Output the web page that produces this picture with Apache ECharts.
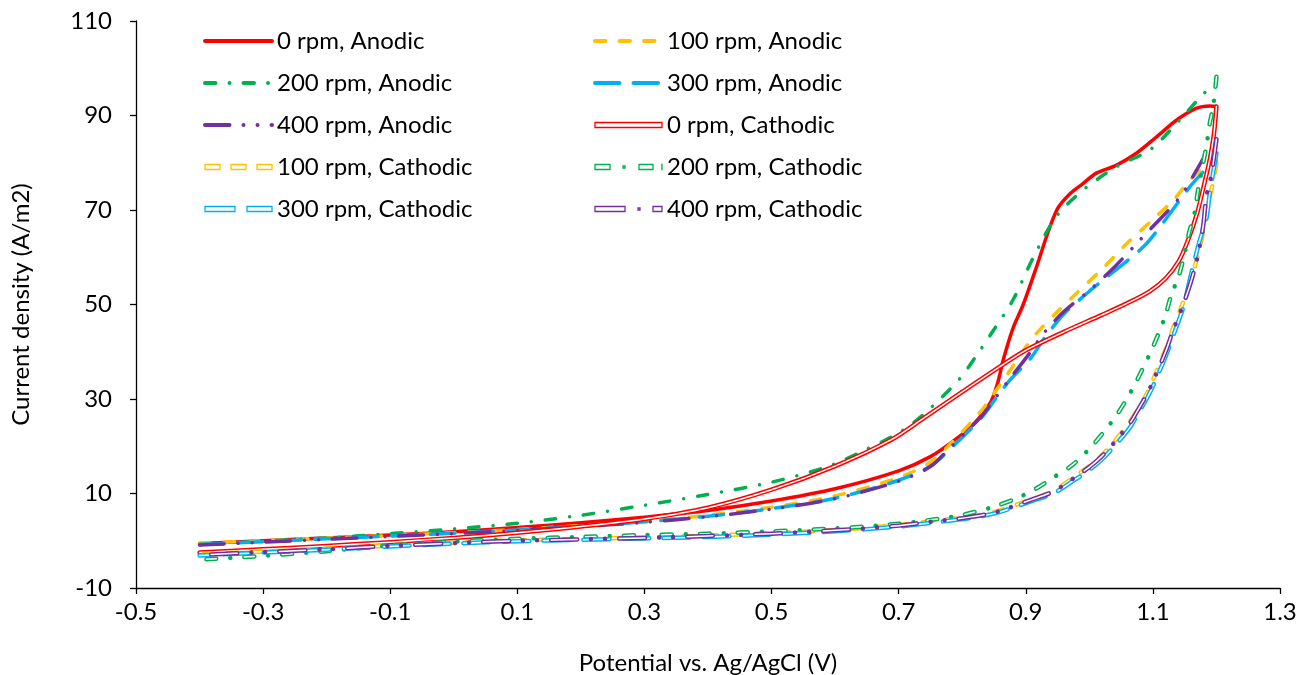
<!DOCTYPE html>
<html>
<head>
<meta charset="utf-8">
<title>CV curves</title>
<script src="https://cdn.jsdelivr.net/npm/echarts@6/dist/echarts.min.js"></script>
<style>
  html, body { margin: 0; background: #fff; }
  #chart { width: 1300px; height: 675px; }
</style>
</head>
<body>
<div id="chart"></div>
<script>
// potential (V), current density (A/m2)
var rpm0Anodic = [[-0.4,-0.6],[-0.3,0],[-0.2,0.6],[-0.1,1.2],[0,1.9],[0.1,2.8],[0.2,3.8],[0.3,5.0],[0.4,6.4],[0.5,8.4],[0.6,11],[0.7,14.8],[0.75,17.8],[0.79,21.5],[0.82,25],[0.845,29.4],[0.856,33.5],[0.865,38.5],[0.88,45],[0.896,50],[0.917,58],[0.933,64.5],[0.95,70.3],[0.97,73.5],[0.99,75.6],[1.011,77.8],[1.043,79.5],[1.074,82],[1.106,85.5],[1.137,89],[1.168,91.5],[1.19,92],[1.2,91.9]]
var rpm100Anodic = [[-0.4,-0.5],[-0.3,0],[-0.2,0.6],[-0.1,1.1],[0,1.7],[0.1,2.4],[0.2,3.2],[0.3,4.1],[0.4,5.4],[0.5,7.1],[0.6,9.5],[0.7,13.4],[0.75,16.6],[0.78,20.3],[0.83,27.5],[0.85,31.2],[0.875,36],[0.9,41],[0.917,43.9],[0.95,48.5],[0.98,52.4],[1.02,57.5],[1.059,62.9],[1.1,68],[1.132,72.1],[1.163,77],[1.185,79.5],[1.2,80.5]]
var rpm200Anodic = [[-0.4,-0.8],[-0.3,-0.1],[-0.2,0.6],[-0.1,1.5],[0,2.5],[0.1,3.7],[0.2,5.4],[0.3,7.5],[0.4,9.8],[0.5,12.4],[0.586,15.6],[0.641,18.8],[0.707,23.4],[0.751,28.2],[0.796,34.3],[0.823,39.3],[0.845,43.7],[0.88,51],[0.912,60],[0.948,68.6],[0.99,74.2],[1.043,79.2],[1.095,82.7],[1.137,88.3],[1.179,94.5],[1.2,97]]
var rpm300Anodic = [[-0.4,-0.8],[-0.3,-0.2],[-0.2,0.4],[-0.1,1.0],[0,1.6],[0.1,2.3],[0.2,3.1],[0.3,4.0],[0.4,5.2],[0.5,6.8],[0.6,9.0],[0.7,12.8],[0.75,15.8],[0.78,19.3],[0.83,26],[0.85,29.6],[0.875,34],[0.907,38.5],[0.93,43],[0.96,48],[1.0,52.8],[1.022,55.2],[1.085,62.2],[1.12,68],[1.158,74.9],[1.185,79],[1.2,82]]
var rpm400Anodic = [[-0.4,-0.9],[-0.3,-0.3],[-0.2,0.3],[-0.1,0.9],[0,1.5],[0.1,2.2],[0.2,3.0],[0.3,3.9],[0.4,5.1],[0.5,6.7],[0.6,8.9],[0.7,12.6],[0.75,15.7],[0.78,19.6],[0.83,26.3],[0.85,29.8],[0.875,34.3],[0.905,39.5],[0.928,43.9],[0.96,48.5],[1.001,53.1],[1.04,58],[1.08,63.7],[1.143,72.8],[1.169,78.5],[1.184,82],[1.2,85]]

var rpm0Cathodic = [[1.2,91.9],[1.196,86],[1.19,81],[1.18,75],[1.17,69.5],[1.155,63.5],[1.14,59],[1.12,55.5],[1.095,52.8],[1.06,50.3],[1.02,47.8],[0.96,44.2],[0.9,40.3],[0.86,36.9],[0.8,31.5],[0.74,26],[0.69,21.5],[0.6,15.8],[0.5,10.8],[0.4,7.0],[0.3,4.6],[0.2,3.0],[0.1,1.7],[0,0.6],[-0.1,-0.3],[-0.2,-1.1],[-0.3,-1.8],[-0.4,-2.5]]
var rpm100Cathodic = [[1.2,80],[1.195,76],[1.188,72],[1.18,66],[1.17,60],[1.158,54.5],[1.145,49.5],[1.132,45],[1.12,40.5],[1.101,34.3],[1.09,31],[1.077,28],[1.064,25.2],[1.038,20.8],[1.019,18],[1.001,15.9],[0.975,13.4],[0.943,10.5],[0.907,8.7],[0.854,6.2],[0.812,5.1],[0.75,4.1],[0.7,3.3],[0.6,2.3],[0.5,1.6],[0.4,1.1],[0.3,0.7],[0.2,0.4],[0.1,0.1],[0,-0.4],[-0.1,-1.0],[-0.2,-1.7],[-0.3,-2.3],[-0.4,-2.8]]
var rpm200Cathodic = [[1.2,98.2],[1.195,92],[1.189,88],[1.184,83.4],[1.171,74.2],[1.166,69.6],[1.157,65.2],[1.15,60.8],[1.141,56.2],[1.129,52],[1.119,47.4],[1.1,41],[1.074,33.7],[1.061,30.5],[1.043,26.6],[1.022,22.9],[1.001,19.6],[0.975,16.2],[0.946,13.6],[0.917,11.1],[0.886,9.0],[0.854,7.4],[0.82,6.1],[0.786,5.1],[0.7,3.6],[0.6,2.6],[0.5,2.0],[0.4,1.5],[0.3,1.2],[0.2,0.8],[0.1,0.4],[0,-0.2],[-0.1,-1.0],[-0.2,-2.2],[-0.3,-3.2],[-0.4,-4.0]]
var rpm300Cathodic = [[1.2,82],[1.195,78],[1.19,74],[1.184,68],[1.174,63.7],[1.163,58],[1.158,55.2],[1.148,49.5],[1.135,44.5],[1.12,39],[1.101,33],[1.09,30],[1.077,27],[1.064,24],[1.038,19.8],[1.019,17.1],[1.001,15.1],[0.975,12.7],[0.943,10],[0.907,8.3],[0.854,5.9],[0.812,4.8],[0.75,3.8],[0.7,3.0],[0.6,2.0],[0.5,1.3],[0.4,0.8],[0.3,0.5],[0.2,0.2],[0.1,-0.1],[0,-0.6],[-0.1,-1.2],[-0.2,-1.9],[-0.3,-2.5],[-0.4,-3.1]]
var rpm400Cathodic = [[1.2,85],[1.195,80],[1.19,76],[1.184,72.8],[1.179,66.5],[1.169,59.4],[1.158,54],[1.145,49],[1.132,44.6],[1.12,40],[1.101,34],[1.09,30.8],[1.077,27.8],[1.064,24.9],[1.038,20.6],[1.019,17.8],[1.001,15.7],[0.975,13.2],[0.943,10.4],[0.907,8.6],[0.854,6.1],[0.812,5.0],[0.75,4.0],[0.7,3.2],[0.6,2.2],[0.5,1.5],[0.4,1.0],[0.3,0.6],[0.2,0.3],[0.1,0],[0,-0.5],[-0.1,-1.1],[-0.2,-1.8],[-0.3,-2.4],[-0.4,-3.0]]

var names = ['0 rpm, Anodic', '100 rpm, Anodic', '200 rpm, Anodic', '300 rpm, Anodic', '400 rpm, Anodic',
  '0 rpm, Cathodic', '100 rpm, Cathodic', '200 rpm, Cathodic', '300 rpm, Cathodic', '400 rpm, Cathodic']
var colors = ['#FF0000', '#FFC000', '#00B050', '#00B0F0', '#7030A0']

var FONT = 'Lato'

// dash patterns (round caps add the line width to every dash)
var dashA = ['solid', [10.5, 14], [10.5, 14, 0.01, 14], [24.5, 14], [24.5, 14, 0.01, 14, 0.01, 14]]
var dashC = ['solid', [10, 14], [10, 14, 0.01, 14], [26, 14], [26, 14, 0.01, 14, 0.01, 14]]
var dashCInner = ['solid', [10, 14], [10, 28.01], [26, 14], [26, 42.02]]
var iconC = [
  'path://M0,0H67V5H0Z',
  'path://M0,0H15V5H0Z M26,0H41V5H26Z M52,0H67V5H52Z',
  'path://M0,0H15V5H0Z M28,1.5H30V3.5H28Z M44,0H58V5H44Z M66.9,0H67V5H66.9Z',
  'path://M0,0H30V5H0Z M42,0H67V5H42Z',
  'path://M0,0H30V5H0Z M43,1.5H45V3.5H43Z M58,0H67V5H58Z'
]

var anodicData = [rpm0Anodic, rpm100Anodic, rpm200Anodic, rpm300Anodic, rpm400Anodic]
var cathodicData = [rpm0Cathodic, rpm100Cathodic, rpm200Cathodic, rpm300Cathodic, rpm400Cathodic]

var series = []
anodicData.forEach(function(d, i) {
  series.push({
    name: names[i], type: 'line', data: d, symbol: 'none', smooth: 0.3,
    itemStyle: { color: colors[i] },
    lineStyle: { color: colors[i], width: 3.5, type: dashA[i], cap: 'round', join: 'round' }
  })
})
cathodicData.forEach(function(d, i) {
  // double line: coloured stroke with a thin white core
  series.push({
    name: names[i + 5], type: 'line', data: d, symbol: 'none', smooth: 0.3,
    itemStyle: { color: colors[i] },
    lineStyle: { color: colors[i], width: 4.5, type: dashC[i], cap: 'round', join: 'round' }
  })
  series.push({
    name: names[i + 5] + ' core', type: 'line', data: d, symbol: 'none', smooth: 0.3,
    itemStyle: { color: '#fff' },
    lineStyle: { color: '#fff', width: 1.5, type: dashCInner[i], cap: 'round', join: 'round' }
  })
})

function legendItem(n) {
  var idx = names.indexOf(n)
  if (idx < 5) {
    return { name: n, itemStyle: { opacity: 0 }, lineStyle: { width: 4, type: dashA[idx], cap: 'round' } }
  }
  return { name: n, icon: iconC[idx - 5], itemStyle: { color: '#fff', borderColor: colors[idx - 5], borderWidth: 1.3 } }
}

var legendBase = {
  orient: 'vertical', top: 24, itemWidth: 67, itemHeight: 5, itemGap: 18, symbolKeepAspect: true,
  textStyle: { fontFamily: FONT, fontSize: 24, color: '#000', lineHeight: 24 }
}

var chart = echarts.init(document.getElementById('chart'))
chart.setOption({
  animation: false,
  backgroundColor: '#fff',
  grid: { left: 136, right: 20, top: 21, bottom: 87, outerBoundsMode: 'none' },
  legend: [
    Object.assign({ left: 198, data: ['0 rpm, Anodic', '200 rpm, Anodic', '400 rpm, Anodic', '100 rpm, Cathodic', '300 rpm, Cathodic'].map(legendItem) }, legendBase),
    Object.assign({ left: 588, data: ['100 rpm, Anodic', '300 rpm, Anodic', '0 rpm, Cathodic', '200 rpm, Cathodic', '400 rpm, Cathodic'].map(legendItem) }, legendBase)
  ],
  xAxis: {
    type: 'value', min: -0.5, max: 1.3, interval: 0.2,
    name: 'Potential vs. Ag/AgCl (V)', nameLocation: 'middle', nameGap: 63,
    nameTextStyle: { fontFamily: FONT, fontSize: 24, color: '#000' },
    axisLine: { onZero: false, lineStyle: { color: '#000', width: 1.3 } },
    axisTick: { inside: false, length: 6, lineStyle: { color: '#000', width: 1.3 } },
    axisLabel: { fontFamily: FONT, fontSize: 24, color: '#000', margin: 12, formatter: function(v) { return String(+v.toFixed(1)) } },
    splitLine: { show: false }
  },
  yAxis: {
    type: 'value', min: -10, max: 110, interval: 20,
    name: 'Current density (A/m2)', nameLocation: 'middle', nameGap: 103,
    nameTextStyle: { fontFamily: FONT, fontSize: 24, color: '#000' },
    axisLine: { show: true, onZero: false, lineStyle: { color: '#000', width: 1.3 } },
    axisTick: { show: true, inside: false, length: 6, lineStyle: { color: '#000', width: 1.3 } },
    axisLabel: { fontFamily: FONT, fontSize: 24, color: '#000', margin: 24 },
    splitLine: { show: false }
  },
  series: series
})
</script>
</body>
</html>
